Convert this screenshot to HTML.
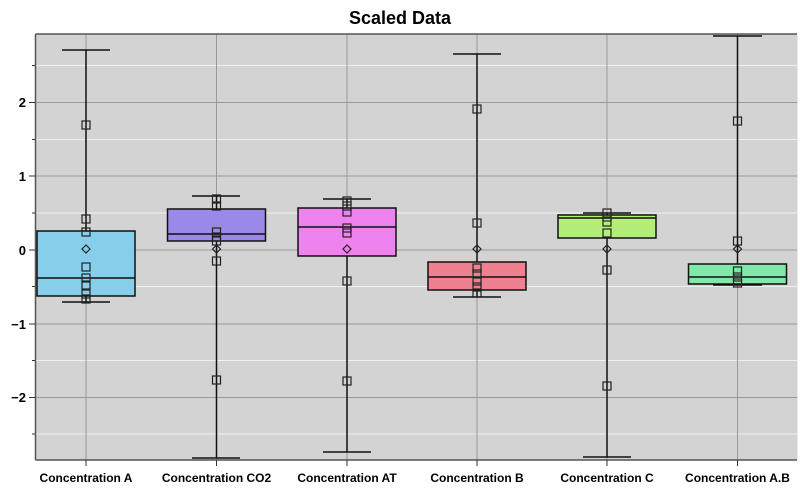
<!DOCTYPE html>
<html><head><style>body{margin:0;background:#fff}svg{display:block}</style></head><body>
<svg width="800" height="494" xmlns="http://www.w3.org/2000/svg" font-family="Liberation Sans, sans-serif">
<text x="400" y="24" text-anchor="middle" font-size="18" font-weight="bold">Scaled Data</text>
<rect x="35.5" y="34" width="762" height="426" fill="#d3d3d3"/>
<g stroke="#f0f0f0" stroke-width="1">
<line x1="36" x2="797" y1="65.5" y2="65.5"/><line x1="36" x2="797" y1="139.5" y2="139.5"/><line x1="36" x2="797" y1="213" y2="213"/><line x1="36" x2="797" y1="286.5" y2="286.5"/><line x1="36" x2="797" y1="360.5" y2="360.5"/><line x1="36" x2="797" y1="434" y2="434"/>
</g>
<g stroke="#999" stroke-width="1">
<line x1="36" x2="797" y1="102.5" y2="102.5"/><line x1="36" x2="797" y1="176" y2="176"/><line x1="36" x2="797" y1="250" y2="250"/><line x1="36" x2="797" y1="324" y2="324"/><line x1="36" x2="797" y1="397.5" y2="397.5"/>
<line x1="86" x2="86" y1="34" y2="460"/><line x1="216.5" x2="216.5" y1="34" y2="460"/><line x1="347" x2="347" y1="34" y2="460"/><line x1="477" x2="477" y1="34" y2="460"/><line x1="607" x2="607" y1="34" y2="460"/><line x1="737.5" x2="737.5" y1="34" y2="460"/>
</g>
<g stroke="#555" stroke-width="1.5" fill="none">
<line x1="35.5" x2="797" y1="34" y2="34"/><line x1="35.5" x2="35.5" y1="34" y2="460"/><line x1="35.5" x2="797" y1="460" y2="460"/>
</g>
<g stroke="#333"><line x1="29" x2="35" y1="102.5" y2="102.5"/><line x1="29" x2="35" y1="176" y2="176"/><line x1="29" x2="35" y1="250" y2="250"/><line x1="29" x2="35" y1="324" y2="324"/><line x1="29" x2="35" y1="397.5" y2="397.5"/>
<line x1="32" x2="35" y1="65.5" y2="65.5"/><line x1="32" x2="35" y1="139.5" y2="139.5"/><line x1="32" x2="35" y1="213" y2="213"/><line x1="32" x2="35" y1="286.5" y2="286.5"/><line x1="32" x2="35" y1="360.5" y2="360.5"/><line x1="32" x2="35" y1="434" y2="434"/>
<line x1="86" x2="86" y1="460" y2="466"/><line x1="216.5" x2="216.5" y1="460" y2="466"/><line x1="347" x2="347" y1="460" y2="466"/><line x1="477" x2="477" y1="460" y2="466"/><line x1="607" x2="607" y1="460" y2="466"/><line x1="737.5" x2="737.5" y1="460" y2="466"/></g>
<g font-size="13" font-weight="bold" text-anchor="end"><text x="26" y="107">2</text><text x="26" y="181">1</text><text x="26" y="255">0</text><text x="26" y="329">−1</text><text x="26" y="402">−2</text></g>
<g font-size="12" font-weight="bold" text-anchor="middle"><text x="86" y="482">Concentration A</text><text x="216.5" y="482">Concentration CO2</text><text x="347" y="482">Concentration AT</text><text x="477" y="482">Concentration B</text><text x="607" y="482">Concentration C</text><text x="737.5" y="482">Concentration A.B</text></g>
<g stroke="#111" stroke-width="1.5">
<!-- A -->
<line x1="86" x2="86" y1="50" y2="302"/><line x1="62" x2="110" y1="50" y2="50"/><line x1="62" x2="110" y1="302" y2="302"/>
<rect x="37" y="231" width="98" height="65" fill="#87ceeb"/><line x1="37" x2="135" y1="278" y2="278"/>
<!-- CO2 -->
<line x1="216.5" x2="216.5" y1="196" y2="458"/><line x1="192" x2="240" y1="196" y2="196"/><line x1="192" x2="240" y1="458" y2="458"/>
<rect x="167.5" y="209" width="98" height="32" fill="#9b88e8"/><line x1="167.5" x2="265.5" y1="234" y2="234"/>
<!-- AT -->
<line x1="347" x2="347" y1="199" y2="452"/><line x1="323" x2="371" y1="199" y2="199"/><line x1="323" x2="371" y1="452" y2="452"/>
<rect x="298" y="208" width="98" height="48" fill="#ee82ee"/><line x1="298" x2="396" y1="227" y2="227"/>
<!-- B -->
<line x1="477" x2="477" y1="54" y2="297"/><line x1="453" x2="501" y1="54" y2="54"/><line x1="453" x2="501" y1="297" y2="297"/>
<rect x="428" y="262" width="98" height="28" fill="#ee8090"/><line x1="428" x2="526" y1="277" y2="277"/>
<!-- C -->
<line x1="607" x2="607" y1="213" y2="457"/><line x1="583" x2="631" y1="213" y2="213"/><line x1="583" x2="631" y1="457" y2="457"/>
<rect x="558" y="215" width="98" height="23" fill="#b4ee7a"/><line x1="558" x2="656" y1="218" y2="218"/>
<!-- A.B -->
<line x1="737.5" x2="737.5" y1="36" y2="285"/><line x1="713" x2="762" y1="36" y2="36"/><line x1="713" x2="762" y1="285" y2="285"/>
<rect x="688.5" y="264" width="98" height="20" fill="#80e8a8"/><line x1="688.5" x2="786.5" y1="277" y2="277"/>
</g>
<g fill="none" stroke="#222" stroke-width="1.2">
<rect x="82" y="121" width="8" height="8"/><rect x="82" y="215" width="8" height="8"/><rect x="82" y="228" width="8" height="8"/><rect x="82" y="263" width="8" height="8"/><rect x="82" y="274" width="8" height="8"/><rect x="82" y="281" width="8" height="8"/><rect x="82" y="290" width="8" height="8"/><rect x="82" y="295" width="8" height="8"/>
<rect x="212.5" y="195" width="8" height="8"/><rect x="212.5" y="202" width="8" height="8"/><rect x="212.5" y="228" width="8" height="8"/><rect x="212.5" y="233" width="8" height="8"/><rect x="212.5" y="237" width="8" height="8"/><rect x="212.5" y="257" width="8" height="8"/><rect x="212.5" y="376" width="8" height="8"/>
<rect x="343" y="197" width="8" height="8"/><rect x="343" y="202" width="8" height="8"/><rect x="343" y="208" width="8" height="8"/><rect x="343" y="224" width="8" height="8"/><rect x="343" y="229" width="8" height="8"/><rect x="343" y="277" width="8" height="8"/><rect x="343" y="377" width="8" height="8"/>
<rect x="473" y="105" width="8" height="8"/><rect x="473" y="219" width="8" height="8"/><rect x="473" y="264" width="8" height="8"/><rect x="473" y="270" width="8" height="8"/><rect x="473" y="277" width="8" height="8"/><rect x="473" y="283" width="8" height="8"/><rect x="473" y="289" width="8" height="8"/>
<rect x="603" y="209" width="8" height="8"/><rect x="603" y="213" width="8" height="8"/><rect x="603" y="218" width="8" height="8"/><rect x="603" y="229" width="8" height="8"/><rect x="603" y="266" width="8" height="8"/><rect x="603" y="382" width="8" height="8"/>
<rect x="733.5" y="117" width="8" height="8"/><rect x="733.5" y="237" width="8" height="8"/><rect x="733.5" y="267" width="8" height="8"/><rect x="733.5" y="273" width="8" height="8"/><rect x="733.5" y="279" width="8" height="8"/>
<path d="M86 245l4 4-4 4-4-4z M216.5 245l4 4-4 4-4-4z M347 245l4 4-4 4-4-4z M477 245l4 4-4 4-4-4z M607 245l4 4-4 4-4-4z M737.5 245l4 4-4 4-4-4z"/>
</g>
</svg>
</body></html>
